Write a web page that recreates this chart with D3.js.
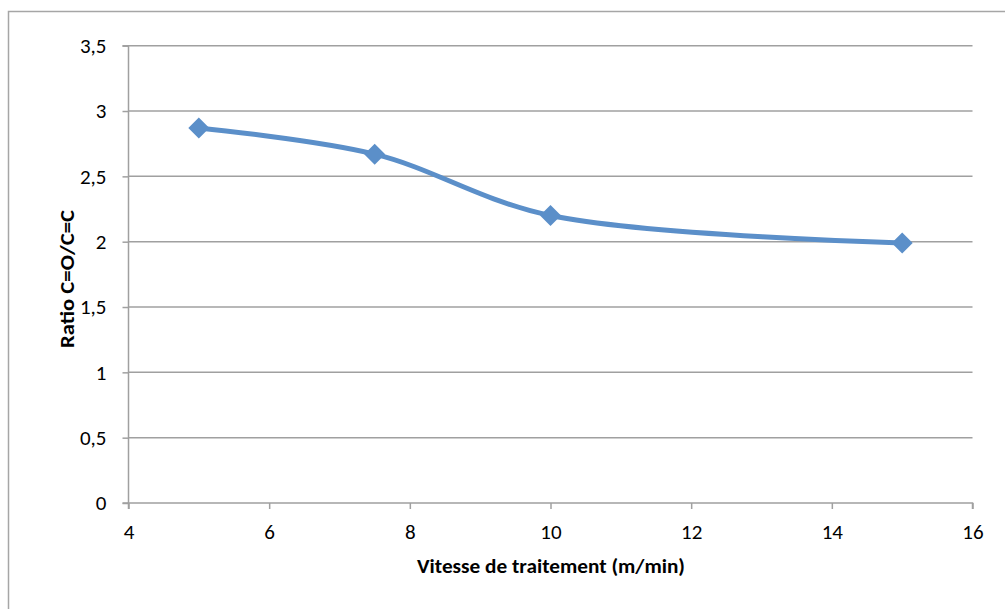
<!DOCTYPE html>
<html><head><meta charset="utf-8">
<script src="https://cdn.jsdelivr.net/npm/d3@7"></script>
<style>body{margin:0;background:#fff}svg{display:block}</style>
</head><body>
<script>
const xValues = [5, 7.5, 10, 15];
const yValues = [2.87, 2.67, 2.2, 1.99];
const xTicks = [4, 6, 8, 10, 12, 14, 16];
const yTicks = [0, 0.5, 1, 1.5, 2, 2.5, 3, 3.5];
const xTitle = "Vitesse de traitement (m/min)";
const yTitle = "Ratio C=O/C=C";

const W = 1005, H = 609;
const svg = d3.select("body").append("svg").attr("width", W).attr("height", H);
svg.append("rect").attr("x", 8.5).attr("y", 11.5).attr("width", W + 10).attr("height", H + 10)
  .attr("fill", "#fff").attr("stroke", "#a6a6a6").attr("stroke-width", 1.5);

const x = d3.scaleLinear().domain([4, 16]).range([128.5, 972.5]);
const y = d3.scaleLinear().domain([0, 3.5]).range([503, 45.7]);
const fmt = d => String(d).replace(".", ",");
const font = "Carlito, Calibri, 'Open Sans', sans-serif";

// gridlines
svg.append("g").selectAll("line").data(yTicks.filter(d => d > 0)).join("line")
  .attr("x1", x(4)).attr("x2", x(16)).attr("y1", d => y(d)).attr("y2", d => y(d))
  .attr("stroke", "#a0a0a0").attr("stroke-width", 1.5);

// y axis
const ya = svg.append("g").attr("transform", `translate(${x(4)},0)`)
  .call(d3.axisLeft(y).tickValues(yTicks).tickFormat(fmt).tickSize(6).tickPadding(16));
// x axis
const xa = svg.append("g").attr("transform", `translate(0,${y(0)})`)
  .call(d3.axisBottom(x).tickValues(xTicks).tickFormat(fmt).tickSize(6).tickPadding(15));
[ya, xa].forEach(g => {
  g.select(".domain").attr("stroke", "#a0a0a0").attr("stroke-width", 1.5);
  g.selectAll(".tick line").attr("stroke", "#a0a0a0").attr("stroke-width", 1.5);
  g.selectAll("text").attr("font-family", font).attr("font-size", 21).attr("fill", "#000");
});
xa.select(".domain").attr("d", `M${x(4)},6V0H${x(16)}V6`);
ya.select(".domain").attr("d", `M-6,${y(3.5)}H0V${y(0)}H-6`);

// line
const pts = xValues.map((v, i) => [v, yValues[i]]);
svg.append("path").datum(pts)
  .attr("d", d3.line().x(d => x(d[0])).y(d => y(d[1])).curve(d3.curveCatmullRom.alpha(0.5)))
  .attr("fill", "none").attr("stroke", "#5b8fc9").attr("stroke-width", 5).attr("stroke-linejoin", "round");

svg.append("g").selectAll("path").data(pts).join("path")
  .attr("transform", d => `translate(${x(d[0])},${y(d[1])})`)
  .attr("d", "M0,-10.5L10.5,0L0,10.5L-10.5,0Z").attr("fill", "#5b8fc9");

// titles
svg.append("text").attr("x", 551).attr("y", 573).attr("text-anchor", "middle")
  .attr("font-family", font).attr("font-weight", "bold").attr("font-size", 21)
  .attr("textLength", 268).attr("lengthAdjust", "spacingAndGlyphs").text(xTitle);
svg.append("text").attr("transform", "translate(74,279) rotate(-90)").attr("text-anchor", "middle")
  .attr("font-family", font).attr("font-weight", "bold").attr("font-size", 20)
  .attr("textLength", 138).attr("lengthAdjust", "spacingAndGlyphs").text(yTitle);
</script>
</body></html>
